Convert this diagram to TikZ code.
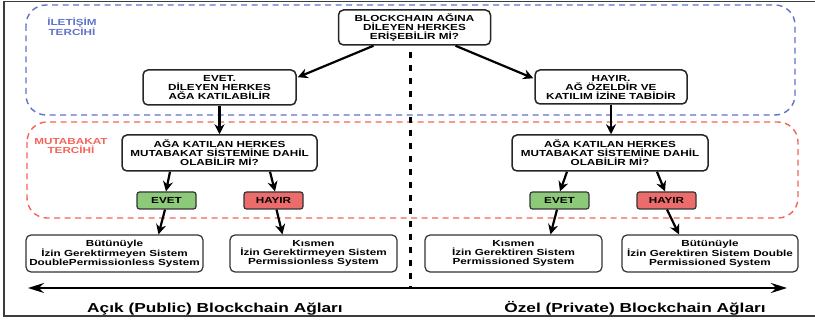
\documentclass[tikz,border=0pt]{standalone}
\usepackage{fontspec}
\setmainfont{Liberation Sans}[FakeStretch=1.33]
\usetikzlibrary{arrows.meta,calc}
\definecolor{bluedash}{RGB}{95,115,200}
\definecolor{reddash}{RGB}{245,100,90}
\definecolor{evetgreen}{RGB}{140,201,120}
\definecolor{hayirred}{RGB}{236,108,108}
\definecolor{framegray}{RGB}{60,60,60}
\tikzset{
  qbox/.style={draw=black!85, line width=1.5pt, rounded corners=5pt, fill=white,
    align=center, inner sep=0pt, font=\bfseries\fontsize{8.8}{9}\selectfont},
  sbox/.style={draw=black!80, line width=1.2pt, rounded corners=5pt, fill=white,
    align=center, inner sep=0pt, minimum width=177pt, minimum height=37pt,
    font=\bfseries\fontsize{8.8}{9}\selectfont},
  yesbox/.style={draw=black!80, line width=1.2pt, rounded corners=2.5pt, fill=evetgreen,
    minimum width=59pt, minimum height=17pt, inner sep=0pt, font=\bfseries\fontsize{8.8}{8.8}\selectfont},
  nobox/.style={yesbox, fill=hayirred},
  arr/.style={line width=2.2pt, -{Stealth[length=10pt,width=10pt]}},
  zone/.style={dash pattern=on 6pt off 4.5pt, line width=1.4pt, rounded corners=20pt},
  zonelabel/.style={align=center, inner sep=0pt, font=\bfseries\fontsize{8.8}{8.2}\selectfont},
  bottomlabel/.style={anchor=base, inner sep=0pt, font=\bfseries\fontsize{13}{13}\selectfont},
}
\begin{document}
\begin{tikzpicture}[x=1pt,y=-1pt]
\useasboundingbox (0,0) rectangle (815,323);
% frame
\draw[framegray, line width=1.6pt] (818,1.5) -- (4,1.5) -- (4,316) -- (818,316);
% zones
\draw[zone, bluedash] (26,5) rectangle (795,115);
\draw[zone, reddash] (27,122) rectangle (798,218);
\node[zonelabel, text=bluedash] (lbl1) at (72,26.5) {İLETİŞİM\\TERCİHİ};
\node[zonelabel, text=reddash] (lbl2) at (71,146) {MUTABAKAT\\TERCİHİ};
% divider
\coordinate (dtop) at (410,52);
\coordinate (dbot) at (410,288);
\draw[line width=3pt, dash pattern=on 6pt off 7pt] (dtop) -- (dbot);
% horizontal double arrow
\coordinate (hl) at (28,288);
\coordinate (hr) at (787,288);
\draw[line width=2pt, {Stealth[length=16pt,width=10pt]}-{Stealth[length=16pt,width=10pt]}] (hl) -- (hr);
% nodes
\node[qbox, minimum width=152pt, minimum height=35pt] (top) at (414.5,27.5) {BLOCKCHAIN AĞINA\\DİLEYEN HERKES\\ERİŞEBİLİR Mİ?};
\node[qbox, minimum width=153pt, minimum height=35pt] (left) at (219.5,87.5) {EVET.\\DİLEYEN HERKES\\AĞA KATILABİLİR};
\node[qbox, minimum width=152pt, minimum height=34pt] (right) at (611,87) {HAYIR.\\AĞ ÖZELDİR VE\\KATILIM İZİNE TABİDİR};
\node[qbox, minimum width=195pt, minimum height=36pt] (mutL) at (219.5,153) {AĞA KATILAN HERKES\\MUTABAKAT SİSTEMİNE DAHİL\\OLABİLİR Mİ?};
\node[qbox, minimum width=196pt, minimum height=36pt] (mutR) at (610,153) {AĞA KATILAN HERKES\\MUTABAKAT SİSTEMİNE DAHİL\\OLABİLİR Mİ?};
\node[yesbox] (evetL) at (166.5,200.5) {EVET};
\node[nobox] (hayirL) at (273.5,200.5) {HAYIR};
\node[yesbox] (evetR) at (559.5,200.5) {EVET};
\node[nobox] (hayirR) at (666.5,200.5) {HAYIR};
\node[sbox] (b1) at (114.5,253.5) {Bütünüyle\\İzin Gerektirmeyen Sistem\\DoublePermissionless System};
\node[sbox, minimum width=167pt] (b2) at (313.5,253.5) {Kısmen\\İzin Gerektirmeyen Sistem\\Permissionless System};
\node[sbox] (b3) at (513.5,253.5) {Kısmen\\İzin Gerektiren Sistem\\Permissioned System};
\node[sbox, minimum width=176pt] (b4) at (710,253.5) {Bütünüyle\\İzin Gerektiren Sistem Double\\Permissioned System};
% bottom labels
\node[bottomlabel] (pub) at (215,312.5) {Açık (Public) Blockchain Ağları};
\node[bottomlabel] (priv) at (635,312.5) {Özel (Private) Blockchain Ağları};
% connectors
\draw[arr] ([xshift=-41pt]top.south) -- ([xshift=1pt,yshift=-8pt]left.north east);
\draw[arr] ([xshift=41pt]top.south) -- ([xshift=-1pt,yshift=-9pt]right.north west);
\draw[arr] (left.south) -- (mutL.north);
\draw[arr] (right.south) -- (right.south |- mutR.north);
\draw[arr] ([xshift=-49.5pt]mutL.south) -- ([xshift=-0.5pt]evetL.north);
\draw[arr] ([xshift=50.5pt]mutL.south) -- ([xshift=1.5pt]hayirL.north);
\draw[arr] ([xshift=-43pt]mutR.south) -- ([xshift=0.5pt]evetR.north);
\draw[arr] ([xshift=47pt]mutR.south) -- ([xshift=-1.5pt]hayirR.north);
\draw[arr] ([xshift=-1.5pt]evetL.south) -- ([xshift=44pt]b1.north);
\draw[arr] ([xshift=3pt]hayirL.south) -- ([xshift=-31pt]b2.north);
\draw[arr] ([xshift=-2.5pt]evetR.south) -- ([xshift=37pt]b3.north);
\draw[arr] ([xshift=0.5pt]hayirR.south) -- ([xshift=-31pt]b4.north);
\end{tikzpicture}
\end{document}
